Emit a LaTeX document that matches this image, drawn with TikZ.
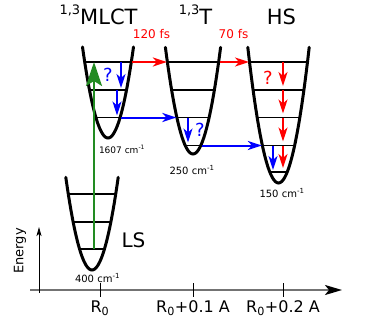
\documentclass[tikz,border=0pt]{standalone}
\usepackage{fontspec}
\setmainfont{DejaVu Sans}
\usetikzlibrary{arrows.meta}
\definecolor{fsred}{HTML}{FF0000}
\definecolor{fsblue}{HTML}{0000FF}
\definecolor{fsgreen}{HTML}{228B22}
\newcommand\fsz[1]{\fontsize{#1}{#1}\selectfont}
\newcommand\supnum[1]{\raisebox{10pt}{\fsz{13}#1}}

\begin{document}
\begin{tikzpicture}[x=1pt,y=-1pt,
  well/.style={line width=3pt,line cap=round},
  level/.style={line width=1.2pt},
  redarr/.style={fsred,line width=2pt,-{Stealth[length=14pt,width=9pt,inset=4pt]}},
  bluearr/.style={fsblue,line width=2pt,-{Stealth[length=14pt,width=9pt,inset=4pt]}},
  title/.style={font=\fsz{21},anchor=base},
  freq/.style={font=\fsz{10}},
  qmark/.style={font=\fsz{18}}]
\useasboundingbox (0,0) rectangle (374,329);
% axes
\draw[black!55,line width=2pt,-{Stealth[length=17pt,width=10pt,inset=4pt,color=black]}] (30,290) coordinate (ax0) -- (342,290) coordinate (ax1);
\draw[line width=0.9pt,-{Stealth[length=9pt,width=5pt,inset=2pt]}] (39,293) coordinate (ey0) -- (39,227) coordinate (ey1);
\node[rotate=90,font=\fsz{13}] (energy) at (20,251) {Energy};
\foreach \tx/\tl [count=\i] in {100/R\textsubscript{0},193/R\textsubscript{0}+0.1 A,283/R\textsubscript{0}+0.2 A} {
  \draw[line width=0.9pt] (\tx,283) -- (\tx,297);
  \node[font=\fsz{16}] (tick\i) at (\tx,308) {\tl};
}
% LS well
\draw[well] plot[domain=-26.2:26.2,samples=41] ({92+\x},{270-0.135*\x*\x});
\foreach \ly [count=\i] in {194,222,249} {
  \pgfmathsetmacro\hw{sqrt((270-\ly)/0.135)-0.5}
  \draw[level] ({92-\hw},\ly) coordinate (L\i l) -- ({92+\hw},\ly) coordinate (L\i r);
}
% 1,3MLCT well
\draw[well] plot[domain=-25.5:25.5,samples=41] ({108+\x},{138-0.14*\x*\x});
\foreach \ly [count=\i] in {62,90,117.5} {
  \pgfmathsetmacro\hw{sqrt((138-\ly)/0.14)-0.5}
  \draw[level] ({108-\hw},\ly) coordinate (M\i l) -- ({108+\hw},\ly) coordinate (M\i r);
}
% 1,3T well
\draw[well] plot[domain=-27.6:27.6,samples=41] ({193+\x},{154-0.14*\x*\x});
\foreach \ly [count=\i] in {62,90,117.5,145.5} {
  \pgfmathsetmacro\hw{sqrt((154-\ly)/0.14)-0.5}
  \draw[level] ({193-\hw},\ly) coordinate (T\i l) -- ({193+\hw},\ly) coordinate (T\i r);
}
% HS well
\draw[well] plot[domain=-30.7:30.7,samples=41] ({278.5+\x},{183-0.144*\x*\x});
\foreach \ly [count=\i] in {62,90,117.5,145.5,172} {
  \pgfmathsetmacro\hw{sqrt((183-\ly)/0.144)-0.5}
  \draw[level] ({278.5-\hw},\ly) coordinate (H\i l) -- ({278.5+\hw},\ly) coordinate (H\i r);
}
% titles and labels
\node[title] (tmlct) at (98.5,25) {\supnum{1,3}MLCT};
\node[title] (tt) at (195.5,25) {\supnum{1,3}T};
\node[title] (ths) at (281.5,25) {HS};
\node[font=\fsz{20}] (tls) at (133.5,240) {LS};
\node[font=\fsz{9}] (cmM) at (122,149) {1607 cm\textsuperscript{-1}};
\node[freq] (cmT) at (192,170) {250 cm\textsuperscript{-1}};
\node[freq] (cmH) at (282,193) {150 cm\textsuperscript{-1}};
\node[freq] (cmL) at (97.5,278) {400 cm\textsuperscript{-1}};
\node[font=\fsz{12},text=fsred] (fs1) at (151.5,34) {120 fs};
\node[font=\fsz{12},text=fsred] (fs2) at (233.5,34) {70 fs};
\node[qmark,text=fsblue] (qM) at (108,75) {?};
\node[qmark,text=fsblue] (qT) at (200,130) {?};
\node[qmark,text=fsred] (qH) at (268,78) {?};
% transfers
\draw[redarr,shorten <=1.5pt,shorten >=1pt] (M1r) -- (T1l);
\draw[redarr,shorten <=1.5pt,shorten >=1pt] (T1r) -- (H1l);
\draw[bluearr,shorten <=1.5pt,shorten >=1pt] (M3r) -- (T3l);
\draw[bluearr,shorten <=1.5pt,shorten >=1pt] (T4r) -- (H4l);
% relaxation inside the wells
\coordinate (bxM1) at (121,0);
\coordinate (bxM2) at (117,0);
\coordinate (bxT) at (188,0);
\coordinate (bxH) at (273,0);
\coordinate (rxH) at (283,0);
\draw[bluearr,shorten >=2pt] (bxM1 |- M1l) -- (bxM1 |- M2l);
\draw[bluearr,shorten >=2pt] (bxM2 |- M2l) -- (bxM2 |- M3l);
\draw[bluearr,shorten >=3pt] (bxT |- T3l) -- (bxT |- T4l);
\draw[bluearr,shorten >=2pt] (bxH |- H4l) -- (bxH |- H5l);
\foreach \a/\b in {1/2,2/3,3/4,4/5}
  \draw[redarr,shorten >=4pt] (rxH |- H\a l) -- (rxH |- H\b l);
% excitation
\coordinate (gx) at (94,0);
\draw[fsgreen,line width=2.4pt,-{Stealth[length=24pt,width=16pt,inset=5pt]}] (gx |- L3l) -- (gx |- M1l);
\end{tikzpicture}
\end{document}
